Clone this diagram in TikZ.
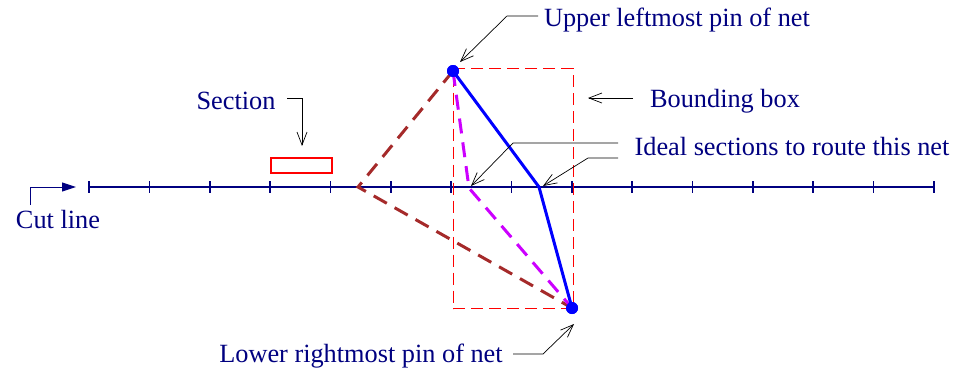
\documentclass[tikz,border=0pt]{standalone}
\usepackage{fontspec}
\setmainfont{Liberation Serif}
\usetikzlibrary{arrows.meta}
\definecolor{cnavy}{HTML}{000080}
\definecolor{cbrown}{HTML}{A52A2A}
\definecolor{cviolet}{HTML}{CC00FF}
\definecolor{cblue}{HTML}{0000FF}
\definecolor{cred}{HTML}{FF0000}
\tikzset{
  every picture/.style={x=1pt, y=-1pt},
  note/.style={text=cnavy, font=\fontsize{26.3}{30}\selectfont, inner sep=0pt},
  leader/.style={-{Straight Barb[length=13pt, width=10pt]}, line width=0.7pt},
  pindot/.style={circle, fill=cblue, inner sep=0pt, minimum size=12pt},
  cutline/.style={draw=cnavy, line width=1.6pt},
  route/.style={line width=3pt, dash pattern=on 15pt off 9pt},
}
\begin{document}
\begin{tikzpicture}
  \useasboundingbox (0,0) rectangle (955,370);
  % cut line with its sections
  \coordinate (cutL) at (89,187);
  \coordinate (cutR) at (934,187);
  \draw[cutline] (cutL) -- (cutR);
  \foreach \i in {0,...,14}
    \draw[cutline] ({89+60.357*\i},181) -- ++(0,12);
  \node[note] (cut) at (58,219) {Cut line};
  \coordinate (cutA) at (30,205);
  \draw[cnavy, line width=1pt, -{Triangle[length=14pt, width=9pt]}] (cutA) |- (76,187);
  % one section
  \node[draw=cred, line width=1.3pt, minimum width=61pt, minimum height=15pt, inner sep=0pt] (sec) at (301.5,165.5) {};
  \node[note] (secT) at (236,101) {Section};
  \coordinate (secA) at (287,98);
  \draw[leader] (secA) -| (302,146);
  % bounding box
  \node[draw=cred, dash pattern=on 12pt off 6pt, line width=1pt, minimum width=120pt, minimum height=240pt, inner sep=0pt] (bbox) at (513,188.5) {};
  \node[note] (bbT) at (725,101) {Bounding box};
  \coordinate (bbA) at (633,98);
  \draw[leader] (bbA) -- (588,98);
  % the net and its routes
  \node[pindot] (ul) at (453,71) {};
  \node[pindot] (lr) at (572,308) {};
  \coordinate (bendBrown) at (358,187);
  \coordinate (bendViolet) at (469,188);
  \coordinate (bendBlue) at (539,187);
  \draw[route, cbrown] (ul.center) -- (bendBrown) -- (lr.center);
  \draw[route, cviolet] (ul.center) -- (bendViolet) -- (lr.center);
  \draw[cblue, line width=3pt] (ul.center) -- (bendBlue) -- (lr.center);
  \node[pindot] at (ul) {};
  \node[pindot] at (lr) {};
  % labels
  \node[note] (ulT) at (677,20) {Upper leftmost pin of net};
  \coordinate (ulA) at (538,16);
  \draw[leader] (ulA) -- (507,16) -- (460,62);
  \node[note] (idT) at (792,146) {Ideal sections to route this net};
  \coordinate (idA) at (618,143);
  \coordinate (idB) at (618,158);
  \draw[leader] (idA) -- (513,143) -- (471,186);
  \draw[leader] (idB) -- (588,158) -- (543,186);
  \node[note] (lrT) at (361,356) {Lower rightmost pin of net};
  \coordinate (lrA) at (513,354);
  \draw[leader] (lrA) -- (543,354) -- (574,324);
\end{tikzpicture}
\end{document}
